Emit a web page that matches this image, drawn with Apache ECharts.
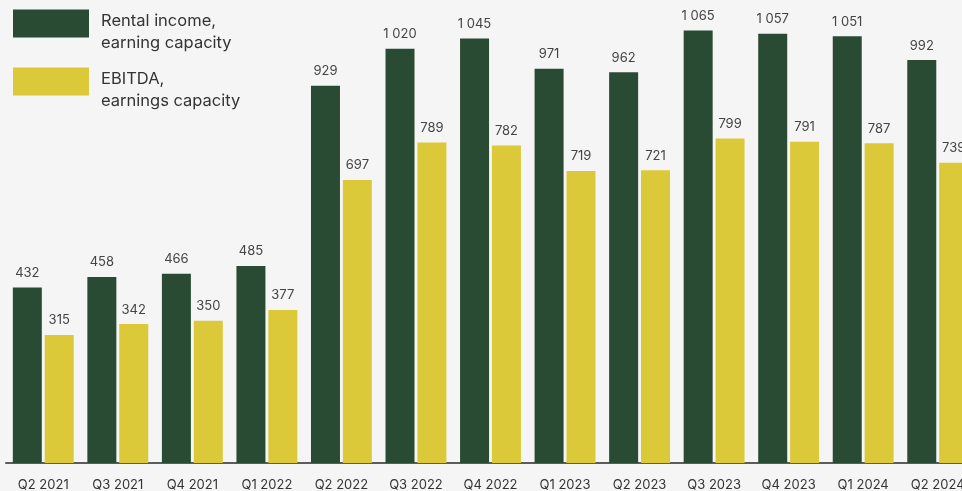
<!DOCTYPE html>
<html>
<head>
<meta charset="utf-8">
<script src="https://cdn.jsdelivr.net/npm/echarts@6/dist/echarts.min.js"></script>
<style>
  html, body { margin: 0; padding: 0; background: #f5f5f5; }
  #chart { width: 962px; height: 491px; }
</style>
</head>
<body>
<div id="chart"></div>
<script>
// Quarterly figures, MSEK
const quarters = ['Q2 2021', 'Q3 2021', 'Q4 2021', 'Q1 2022', 'Q2 2022', 'Q3 2022', 'Q4 2022',
                  'Q1 2023', 'Q2 2023', 'Q3 2023', 'Q4 2023', 'Q1 2024', 'Q2 2024'];
const rentalIncome = [432, 458, 466, 485, 929, 1020, 1045, 971, 962, 1065, 1057, 1051, 992];
const ebitda = [315, 342, 350, 377, 697, 789, 782, 719, 721, 799, 791, 787, 739];
const seriesNames = ['Rental income,\nearning capacity', 'EBITDA,\nearnings capacity'];

const FONT = 'Inter, "Noto Sans", sans-serif';

// Thousands separated by a space, e.g. "1 045"
function fmt(v) {
  return String(v).replace(/\B(?=(\d{3})+(?!\d))/g, ' ');
}

const chart = echarts.init(document.getElementById('chart'), null, { renderer: 'canvas' });

const labelStyle = {
  show: true,
  position: 'top',
  distance: 8,
  color: '#444',
  fontSize: 13,
  fontFamily: FONT,
  formatter: p => fmt(p.value)
};

chart.setOption({
  backgroundColor: '#f5f5f5',
  animation: false,
  legend: {
    orient: 'vertical',
    left: 13,
    top: 1,
    padding: 0,
    itemGap: 7,
    itemWidth: 76,
    itemHeight: 28,
    icon: 'rect',
    // a short empty first line drops the two text lines below the swatch centre
    formatter: name => '{s|}\n' + name.split('\n').map(l => '{t|' + l + '}').join('\n'),
    textStyle: {
      rich: {
        s: { lineHeight: 18, fontSize: 1 },
        t: {
          color: '#333',
          fontSize: 16.5,
          lineHeight: 22,
          fontFamily: FONT,
          padding: [0, 0, 0, 7]
        }
      }
    },
    data: seriesNames
  },
  grid: {
    left: 6,
    top: 0,
    width: 969,
    bottom: 28,
    containLabel: false,
    outerBoundsMode: 'none'
  },
  xAxis: {
    type: 'category',
    data: quarters,
    axisTick: { show: false },
    axisLine: { lineStyle: { color: 'rgba(40,40,40,0.75)', width: 2 } },
    axisLabel: {
      color: '#333',
      fontSize: 13,
      fontFamily: FONT,
      margin: 16
    }
  },
  yAxis: {
    type: 'value',
    min: 0,
    max: 1140,
    show: false,
    splitLine: { show: false }
  },
  series: [
    {
      name: seriesNames[0],
      type: 'bar',
      data: rentalIncome,
      barWidth: 29,
      barGap: '10%',
      itemStyle: { color: '#2a4b33' },
      label: labelStyle
    },
    {
      name: seriesNames[1],
      type: 'bar',
      data: ebitda,
      barWidth: 29,
      itemStyle: { color: '#dcc93a' },
      label: labelStyle
    }
  ]
});
</script>
</body>
</html>
